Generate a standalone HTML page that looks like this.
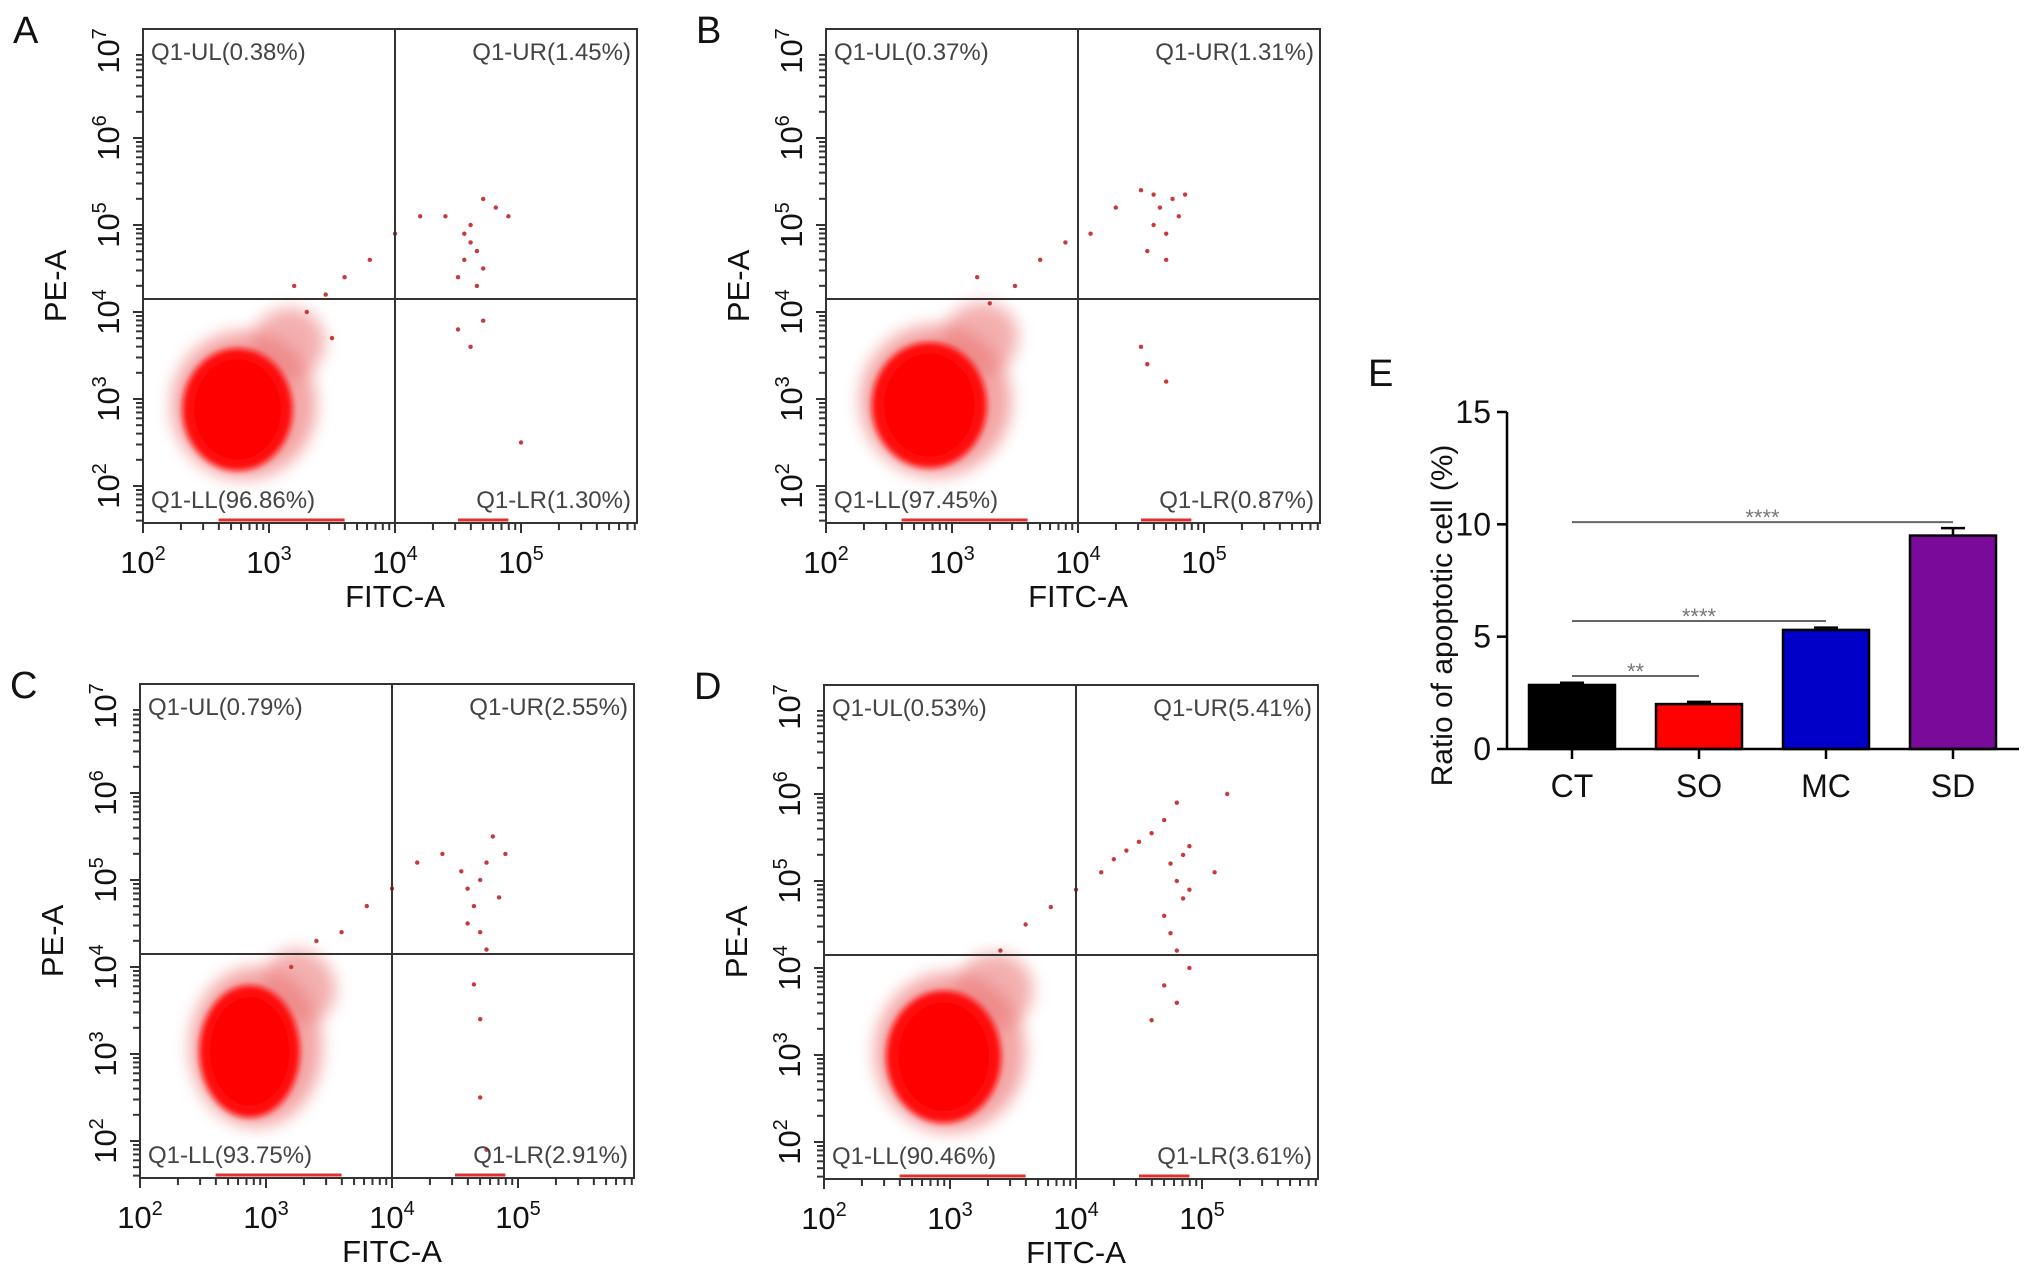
<!DOCTYPE html>
<html><head><meta charset="utf-8">
<style>
html,body{margin:0;padding:0;background:#fff;}
svg{display:block;font-family:"Liberation Sans",sans-serif;}
</style></head>
<body>
<svg id="fig" width="2032" height="1275" viewBox="0 0 2032 1275" xmlns="http://www.w3.org/2000/svg">
<defs><filter id="soft" x="-50%" y="-50%" width="200%" height="200%"><feGaussianBlur stdDeviation="8"/></filter>
<filter id="soft2" x="-50%" y="-50%" width="200%" height="200%"><feGaussianBlur stdDeviation="3"/></filter></defs>
</svg>
<script>
// ---- Flow cytometry panel data ----
const panelLetters = ['A','B','C','D'];
const quadUL = ['0.38','0.37','0.79','0.53'];
const quadUR = ['1.45','1.31','2.55','5.41'];
const quadLL = ['96.86','97.45','93.75','90.46'];
const quadLR = ['1.30','0.87','2.91','3.61'];
// main cluster: [logFITC, logPE, spreadX(decades), spreadY(decades)]
const clusterA = [2.75, 2.88, 0.46, 0.74];
const clusterB = [2.82, 2.93, 0.48, 0.76];
const clusterC = [2.87, 3.03, 0.42, 0.8];
const clusterD = [2.95, 2.98, 0.48, 0.8];
// sparse events [logFITC, logPE]
const eventsA = [[3.3,4.0],[3.45,4.2],[3.6,4.4],[3.8,4.6],[4.0,4.9],[4.2,5.1],[4.4,5.1],[4.5,4.4],[4.55,4.6],[4.6,4.8],[4.65,4.7],[4.55,4.9],[4.6,5.0],[4.7,4.5],[4.65,4.3],[4.5,3.8],[4.6,3.6],[4.7,3.9],[4.8,5.2],[4.9,5.1],[4.7,5.3],[5.0,2.5],[3.5,3.7],[3.2,4.3]];
const eventsB = [[3.3,4.1],[3.5,4.3],[3.7,4.6],[3.9,4.8],[4.1,4.9],[4.3,5.2],[4.5,5.4],[4.6,5.0],[4.7,4.9],[4.55,4.7],[4.65,5.2],[4.75,5.3],[4.8,5.1],[4.7,4.6],[4.5,3.6],[4.55,3.4],[4.7,3.2],[4.85,5.35],[4.6,5.35],[3.2,4.4]];
const eventsC = [[3.2,4.0],[3.4,4.3],[3.6,4.4],[3.8,4.7],[4.0,4.9],[4.2,5.2],[4.4,5.3],[4.6,4.9],[4.65,4.7],[4.7,5.0],[4.75,5.2],[4.6,4.5],[4.7,4.4],[4.75,4.2],[4.65,3.8],[4.7,3.4],[4.8,5.5],[4.9,5.3],[4.55,5.1],[4.7,2.5],[4.75,1.9],[4.85,4.8]];
const eventsD = [[3.4,4.2],[3.6,4.5],[3.8,4.7],[4.0,4.9],[4.2,5.1],[4.3,5.25],[4.4,5.35],[4.5,5.45],[4.6,5.55],[4.7,5.7],[4.8,5.9],[4.75,5.2],[4.8,5.0],[4.85,4.8],[4.7,4.6],[4.75,4.4],[4.8,4.2],[4.9,4.9],[4.85,5.3],[4.9,5.4],[4.7,3.8],[4.8,3.6],[4.6,3.4],[5.1,5.1],[5.2,6.0],[4.9,4.0]];
const clusters = [clusterA, clusterB, clusterC, clusterD];
const events = [eventsA, eventsB, eventsC, eventsD];
const panelOrigin = [[143,29],[826,29],[140,684],[824,685]];
const xTickExp = [2,3,4,5];
const yTickExp = [2,3,4,5,6,7];

// ---- Bar chart data ----
const barCats = ['CT','SO','MC','SD'];
const barVals = [2.85, 2.0, 5.3, 9.5];
const barErr = [0.1, 0.1, 0.1, 0.33];
const barColors = ['#000000','#ff0000','#0000c8','#7a0a9a'];
const yTicks = [0,5,10,15];
const sigFrom = [0,0,0];
const sigTo = [1,2,3];
const sigY = [3.25, 5.7, 10.1];
const sigLabel = ['**','****','****'];

const NS='http://www.w3.org/2000/svg';
const svg=document.getElementById('fig');
function mk(tag,attrs,parent){const e=document.createElementNS(NS,tag);for(const k in attrs)e.setAttribute(k,attrs[k]);(parent||svg).appendChild(e);return e;}

const W=494,H=494,DEC=126,YDEC=87,YOFF=22;
panelLetters.forEach((L,i)=>{
  const [ox,oy]=panelOrigin[i];
  const g=mk('g',{});
  
  
  const sx=v=>ox+(v-2)*DEC;
  const sy=v=>oy+YOFF+(7-v)*YDEC;
  const c=clusters[i];
  const cl=mk('g',{},g);
  
  
  mk('ellipse',{cx:sx(c[0]+0.05),cy:sy(c[1]+0.05),rx:c[2]*DEC*1.25,ry:c[3]*YDEC*1.15,fill:'#ec6a6a',opacity:0.6,filter:'url(#soft)'},cl);
  mk('ellipse',{cx:sx(c[0]+0.4),cy:sy(c[1]+0.75),rx:c[2]*DEC*0.65,ry:c[3]*YDEC*0.55,fill:'#ec7a7a',opacity:0.6,filter:'url(#soft)',transform:`rotate(-35 ${sx(c[0]+0.4)} ${sy(c[1]+0.75)})`},cl);
  mk('ellipse',{cx:sx(c[0]),cy:sy(c[1]),rx:c[2]*DEC*0.95,ry:c[3]*YDEC*0.95,fill:'#ff1010',filter:'url(#soft2)'},cl);
  mk('ellipse',{cx:sx(c[0]),cy:sy(c[1]),rx:c[2]*DEC*0.75,ry:c[3]*YDEC*0.78,fill:'#ff0000'},cl);
  events[i].forEach(p=>{
    const d=mk('circle',{cx:sx(p[0]),cy:sy(p[1]),r:2.2,fill:'#c83a3a'},g);
    
    
  });
  mk('line',{x1:sx(2.6),x2:sx(3.6),y1:oy+H-3,y2:oy+H-3,stroke:'#e03030','stroke-width':3},g);
  mk('line',{x1:sx(4.5),x2:sx(4.9),y1:oy+H-3,y2:oy+H-3,stroke:'#e03030','stroke-width':3},g);
  const b=mk('rect',{x:ox,y:oy,width:W,height:H,fill:'none',stroke:'#333','stroke-width':2},g);
  
  
  const qv=mk('line',{x1:sx(4),x2:sx(4),y1:oy,y2:oy+H,stroke:'#333','stroke-width':2},g);
  
  
  const qh=mk('line',{x1:ox,x2:ox+W,y1:sy(4.15),y2:sy(4.15),stroke:'#333','stroke-width':2},g);
  
  
  const qs=[['Q1-UL('+quadUL[i]+'%)',ox+8,oy+31,'start','label-ul'],['Q1-UR('+quadUR[i]+'%)',ox+W-6,oy+31,'end','label-ur'],['Q1-LL('+quadLL[i]+'%)',ox+8,oy+H-15,'start','label-ll'],['Q1-LR('+quadLR[i]+'%)',ox+W-6,oy+H-15,'end','label-lr']];
  qs.forEach(q=>{const t=mk('text',{x:q[1],y:q[2],'text-anchor':q[3],'font-size':24,fill:'#444'},g);t.textContent=q[0];
    
    });
  for(let e=2;e<6;e++){for(let m=1;m<10;m++){const x=sx(e+Math.log10(m));if(x>ox+W)break;mk('line',{x1:x,x2:x,y1:oy+H,y2:oy+H+(m===1?10:7),stroke:'#333','stroke-width':2},g);}}
  xTickExp.forEach(e=>{const t=mk('text',{x:sx(e),y:oy+H+50,'text-anchor':'middle','font-size':31,fill:'#111'},g);
    t.innerHTML='10<tspan dy="-13" font-size="20">'+e+'</tspan>';
    
    });
  for(let e=1;e<7;e++){for(let m=1;m<10;m++){const v=e+Math.log10(m);const y=sy(v);if(y>oy+H||y<oy)continue;mk('line',{x1:ox-(m===1?10:7),x2:ox,y1:y,y2:y,stroke:'#333','stroke-width':2},g);}}
  yTickExp.forEach(e=>{const t=mk('text',{x:0,y:0,'text-anchor':'middle','font-size':31,fill:'#111',transform:`translate(${ox-24},${sy(e)}) rotate(-90)`},g);
    t.innerHTML='10<tspan dy="-13" font-size="20">'+e+'</tspan>';
    
    });
  const xl=mk('text',{x:sx(4),y:oy+H+84,'text-anchor':'middle','font-size':31,fill:'#111'},g);xl.textContent='FITC-A';
  
  
  const yl=mk('text',{x:0,y:0,'text-anchor':'middle','font-size':31,fill:'#111',transform:`translate(${ox-77},${sy(4.3)}) rotate(-90)`},g);yl.textContent='PE-A';
  
  
  const pl=mk('text',{x:ox-130,y:oy+14,'font-size':38,fill:'#111'},g);pl.textContent=L;
  
  
});

// ---- Bar chart E ----
const bx0=1507,by0=749,bYs=(749-412)/15,catW=127,firstC=1572,barW=86;
const ys=v=>by0-v*bYs;
const xc=i=>firstC+i*catW;
const ge=mk('g',{});


barCats.forEach((c,i)=>{
  const r=mk('rect',{x:xc(i)-barW/2,y:ys(barVals[i]),width:barW,height:ys(0)-ys(barVals[i]),fill:barColors[i],stroke:'#000','stroke-width':2.5},ge);
  
  
  const top=ys(barVals[i]+barErr[i]);
  const eb=mk('path',{d:`M${xc(i)},${ys(barVals[i])}V${top}M${xc(i)-12},${top}H${xc(i)+12}`,stroke:'#000','stroke-width':2.5,fill:'none'},ge);
  
  
  mk('line',{x1:xc(i),x2:xc(i),y1:by0,y2:by0+10,stroke:'#000','stroke-width':2.5},ge);
  const t=mk('text',{x:xc(i),y:by0+48,'text-anchor':'middle','font-size':32,fill:'#111'},ge);t.textContent=c;
  
  
});
mk('line',{x1:bx0,x2:bx0,y1:ys(15),y2:by0,stroke:'#000','stroke-width':2.5},ge);
mk('line',{x1:bx0,x2:2019,y1:by0,y2:by0,stroke:'#000','stroke-width':2.5},ge);
yTicks.forEach(v=>{mk('line',{x1:bx0-10,x2:bx0,y1:ys(v),y2:ys(v),stroke:'#000','stroke-width':2.5},ge);
  const t=mk('text',{x:bx0-16,y:ys(v)+11,'text-anchor':'end','font-size':32,fill:'#111'},ge);t.textContent=v;
  
  });
sigFrom.forEach((f,k)=>{
  const l=mk('line',{x1:xc(f),x2:xc(sigTo[k]),y1:ys(sigY[k]),y2:ys(sigY[k]),stroke:'#666','stroke-width':2},ge);
  
  
  const t=mk('text',{x:(xc(f)+xc(sigTo[k]))/2,y:ys(sigY[k])+3,'text-anchor':'middle','font-size':22,fill:'#777'},ge);t.textContent=sigLabel[k];
  
  
});
const yt=mk('text',{x:0,y:0,'text-anchor':'middle','font-size':30,fill:'#111',transform:`translate(1452,${ys(7.5)+35}) rotate(-90)`},ge);yt.textContent='Ratio of apoptotic cell (%)';


const el=mk('text',{x:1368,y:386,'font-size':38,fill:'#111'},ge);el.textContent='E';


</script>
</body></html>
